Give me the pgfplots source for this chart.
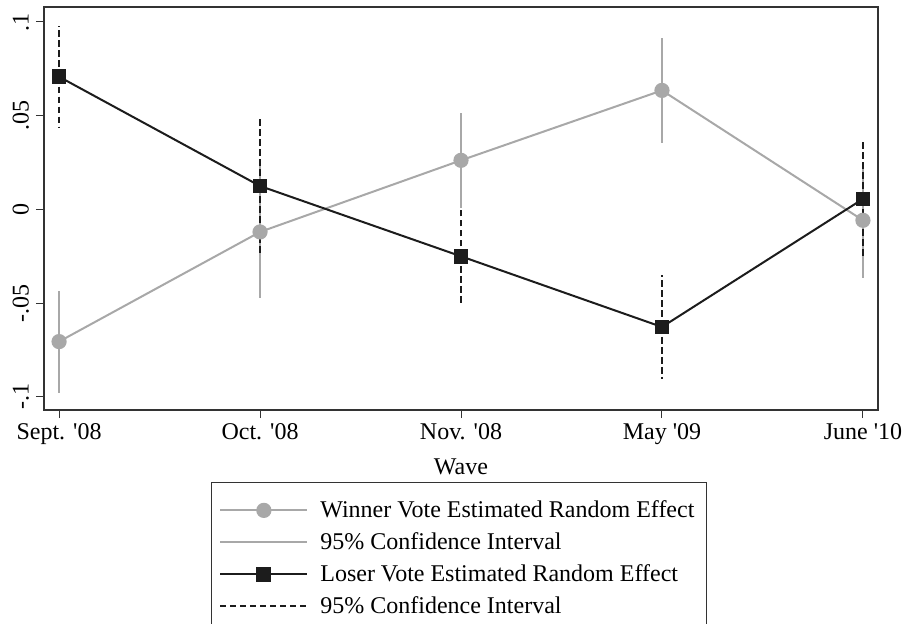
\documentclass[border=0pt]{standalone}
\usepackage{pgfplots}
\pgfplotsset{compat=1.18}
\usepackage{fontspec}
\setmainfont{Liberation Serif}

\definecolor{wingray}{RGB}{168,168,168}
\definecolor{losblack}{RGB}{28,28,28}

\begin{document}
\begin{tikzpicture}
\begin{axis}[
  scale only axis,
  width=417pt, height=201.5pt,
  xmin=-0.075, xmax=4.075,
  ymin=-0.107, ymax=0.108,
  xtick={0,1,2,3,4},
  xticklabels={Sept. \textquotesingle08, Oct. \textquotesingle08, Nov. \textquotesingle08, May \textquotesingle09, June \textquotesingle10},
  ytick={-0.1,-0.05,0,0.05,0.1},
  yticklabels={-.1,-.05,0,.05,.1},
  yticklabel style={rotate=90, anchor=south, font=\fontsize{12}{14}\selectfont},
  xticklabel style={font=\fontsize{12}{14}\selectfont, yshift=1pt},
  tick align=outside,
  major tick length=4pt,
  tick style={black!80, line width=0.5pt},
  axis line style={black!80, line width=0.6pt},
  xtick pos=bottom, ytick pos=left,
  xlabel={Wave},
  xlabel style={font=\fontsize{12}{14}\selectfont, yshift=-0.5pt},
  legend style={at={(0.2002,-0.1787)}, anchor=north west, draw=black!80,
    font=\fontsize{12}{14}\selectfont, cells={anchor=west},
    row sep=2pt, column sep=4pt, inner xsep=4pt, inner ysep=7pt},
  legend image code/.code={\draw[mark repeat=2,mark phase=2,#1] plot coordinates {(0pt,0pt)(21.75pt,0pt)(43.5pt,0pt)};},
]
% winner 95% CI
\addplot[draw=none, mark=none, forget plot,
  error bars/.cd, y dir=both, y explicit,
  error bar style={wingray, line width=1.4pt}, error mark=none]
  coordinates {
    (0,-0.0705) +- (0,0.0272)
    (1,-0.0120) +- (0,0.0355)
    (2,0.0262) +- (0,0.0255)
    (3,0.0635) +- (0,0.0280)
    (4,-0.0058) +- (0,0.0310)};
% loser 95% CI
\addplot[draw=none, mark=none, forget plot,
  error bars/.cd, y dir=both, y explicit,
  error bar style={losblack, line width=1.4pt, dash pattern=on 3.3pt off 1.7pt}, error mark=none]
  coordinates {
    (0,0.0708) +- (0,0.0272)
    (1,0.0125) +- (0,0.0355)
    (2,-0.0250) +- (0,0.0258)
    (3,-0.0627) +- (0,0.0278)
    (4,0.0056) +- (0,0.0315)};
% winner estimate
\addplot[wingray, line width=1pt, mark=*, mark size=3.3pt, mark options={fill=wingray, draw=wingray}]
  coordinates {(0,-0.0705) (1,-0.0120) (2,0.0262) (3,0.0635) (4,-0.0058)};
\addlegendentry{Winner Vote Estimated Random Effect}
\addlegendimage{legend image code/.code={\draw[wingray, line width=1pt] (0pt,0pt) -- (43.5pt,0pt);}}
\addlegendentry{95\% Confidence Interval}
% loser estimate
\addplot[losblack, line width=1pt, mark=square*, mark size=3.2pt, mark options={fill=losblack, draw=losblack}]
  coordinates {(0,0.0708) (1,0.0125) (2,-0.0250) (3,-0.0627) (4,0.0056)};
\addlegendentry{Loser Vote Estimated Random Effect}
\addlegendimage{legend image code/.code={\draw[losblack, line width=0.7pt, dash pattern=on 3pt off 2pt] (0pt,0pt) -- (43.5pt,0pt);}}
\addlegendentry{95\% Confidence Interval}
\end{axis}
\pgfresetboundingbox
\path[use as bounding box] (-22pt,-106.5pt) rectangle (431pt,205pt);
\end{tikzpicture}
\end{document}
